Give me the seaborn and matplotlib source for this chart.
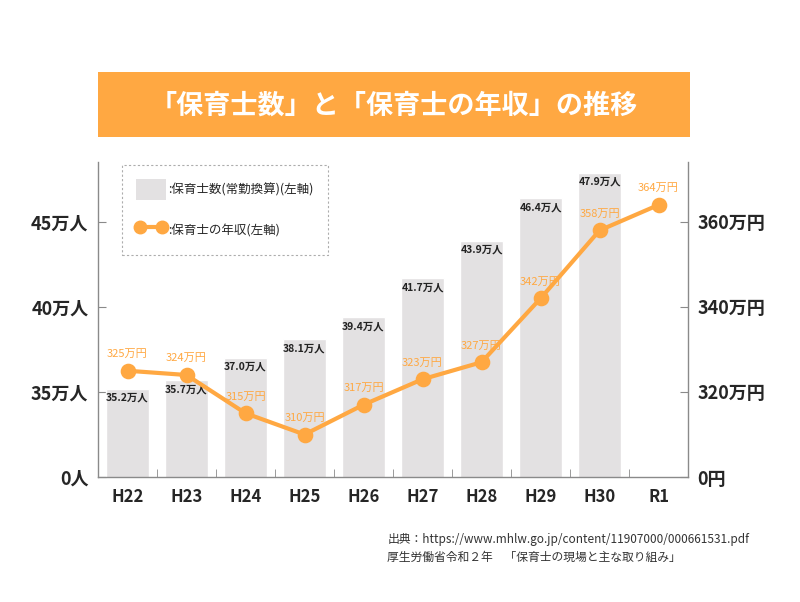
import numpy as np
import pandas as pd
import matplotlib
matplotlib.use('Agg')
import matplotlib.pyplot as plt
from matplotlib.patches import Patch, Rectangle
from matplotlib.lines import Line2D
import seaborn as sns

sns.set_style('ticks')
plt.rcParams['font.family'] = ['Noto Sans CJK JP', 'DejaVu Sans']

# データ
years = ['H22', 'H23', 'H24', 'H25', 'H26', 'H27', 'H28', 'H29', 'H30', 'R1']
staff = [35.2, 35.7, 37.0, 38.1, 39.4, 41.7, 43.9, 46.4, 47.9, np.nan]  # 万人
salary = [325, 324, 315, 310, 317, 323, 327, 342, 358, 364]  # 万円
left_ticks = [30, 35, 40, 45]
left_labels = ['0人', '35万人', '40万人', '45万人']
right_ticks = [300, 320, 340, 360]
right_labels = ['0円', '320万円', '340万円', '360万円']

df = pd.DataFrame({'year': years, 'staff': staff, 'salary': salary})

orange = '#FFA842'
gray_bar = '#E3E1E2'
spine_c = '#8a8a8a'

fig = plt.figure(figsize=(8, 6.02), dpi=100)
ax = fig.add_axes([0.1225, 0.2076, 0.7375, 0.5233])

sns.barplot(data=df, x='year', y='staff', order=years, color=gray_bar,
            width=0.72, errorbar=None, ax=ax, saturation=1)
ax.set_ylim(30, 48.53)  # 0〜30万人は省略(波線のかわり)

ax2 = ax.twinx()
sns.pointplot(data=df, x='year', y='salary', order=years, color=orange,
              markers='o', markersize=9, linewidth=3, errorbar=None, ax=ax2)
ax2.set_ylim(300, 374.1)
ax.set_xlim(-0.5, len(years) - 0.5)

# 棒のラベル
for i, v in enumerate(staff):
    if not np.isnan(v):
        ax.annotate(f'{v:.1f}万人', (i, v), xytext=(0, -6.5), textcoords='offset points',
                    ha='center', va='center', fontsize=7.5, fontweight='bold', color='#222222')
# 折れ線のラベル
for i, v in enumerate(salary):
    ax2.annotate(f'{v}万円', (i, v), xytext=(0, 12), textcoords='offset points',
                 ha='center', va='center', fontsize=8, color=orange)

# 軸
ax.set_yticks(left_ticks)
ax.set_yticklabels(left_labels, fontsize=13, fontweight='bold')
ax2.set_yticks(right_ticks)
ax2.set_yticklabels(right_labels, fontsize=13, fontweight='bold')
ax.set_xticks(range(len(years)))
ax.set_xticklabels(years, fontsize=12, fontweight='bold')
ax.set_xticks(np.arange(0.5, len(years) - 1, 1), minor=True)
ax.tick_params(axis='x', which='major', length=0, pad=8)
ax.tick_params(axis='x', which='minor', length=6, direction='in', color=spine_c)
ax.tick_params(axis='y', direction='in', length=6, color=spine_c, pad=7)
ax2.tick_params(axis='y', direction='in', length=6, color=spine_c, pad=7)
ax.set_xlabel('')
ax.set_ylabel('')
ax2.set_xlabel('')
ax2.set_ylabel('')

for a in (ax, ax2):
    a.spines['top'].set_visible(False)
    for s in ('left', 'right', 'bottom'):
        a.spines[s].set_color(spine_c)
        a.spines[s].set_linewidth(1)
ax.spines['right'].set_visible(False)
ax2.spines['left'].set_visible(False)
ax2.spines['bottom'].set_visible(False)

# 凡例
handles = [Patch(facecolor=gray_bar, edgecolor='none'),
           Line2D([], [], color=orange, lw=3, marker='o', markersize=9)]
leg = ax.legend(handles, [':保育士数(常勤換算)(左軸)', ':保育士の年収(左軸)'],
                loc='upper left', bbox_to_anchor=(0.041, 0.99), borderaxespad=0,
                fontsize=9, numpoints=2, handlelength=2.4, handleheight=2.2,
                handletextpad=0.2, labelspacing=1.6, borderpad=1.1,
                fancybox=False, frameon=True)
fr = leg.get_frame()
fr.set_edgecolor('#999999')
fr.set_linestyle((0, (2, 2)))
fr.set_linewidth(0.8)
fr.set_facecolor('white')

# タイトル
fig.add_artist(Rectangle((0.1225, 0.7724), 0.74, 0.108, transform=fig.transFigure,
                         facecolor=orange, edgecolor='none'))
fig.text(0.4925, 0.824, '「保育士数」と「保育士の年収」の推移', ha='center', va='center',
         fontsize=19.5, fontweight='bold', color='white')

# 出典
fig.text(0.484, 0.103, '出典：https://www.mhlw.go.jp/content/11907000/000661531.pdf',
         fontsize=8.5, color='#333333', va='center')
fig.text(0.484, 0.075, '厚生労働省令和２年　「保育士の現場と主な取り組み」',
         fontsize=8.5, color='#333333', va='center')

fig.savefig('out.png', dpi=100)
